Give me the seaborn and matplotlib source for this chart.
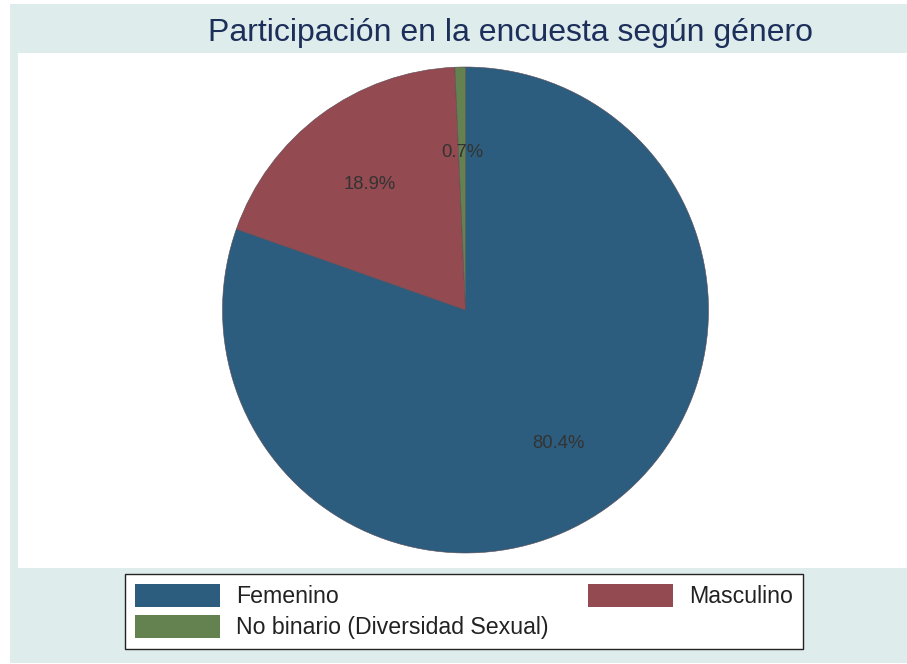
import matplotlib
matplotlib.use("Agg")
import matplotlib.pyplot as plt
from matplotlib.patches import Rectangle, Patch
import seaborn as sns

# Data
categories = ['Femenino', 'Masculino', 'No binario (Diversidad Sexual)']
shares = [80.4, 18.9, 0.7]
colors = sns.color_palette(['#2d5d7e', '#934a51', '#648150'])

sns.set_style('white')
plt.rcParams['font.family'] = ['Liberation Sans', 'DejaVu Sans']

W, H = 907, 664
fig = plt.figure(figsize=(W / 100, H / 100), dpi=100, facecolor='white')

def fx(px):
    return px / W

def fy(py):
    return 1 - py / H

# outer light background and white plot region
fig.add_artist(Rectangle((fx(10), fy(663)), fx(W - 10), (663 - 4) / H,
                         transform=fig.transFigure, facecolor='#dfecec',
                         edgecolor='none', zorder=0))
fig.add_artist(Rectangle((fx(18), fy(568)), fx(W - 18), (568 - 53) / H,
                         transform=fig.transFigure, facecolor='white',
                         edgecolor='none', zorder=0))

# pie axes (square box around the pie)
ax = fig.add_axes([fx(222), fy(553), fx(487), 486 / H])
ax.set_facecolor('none')
wedges, texts, autotexts = ax.pie(
    shares, colors=colors, startangle=90, counterclock=False,
    autopct='%1.1f%%', pctdistance=0.66,
    wedgeprops=dict(linewidth=0.4, edgecolor='#5a4a55'),
    textprops=dict(fontsize=13.3, color='#333333'))
for t in autotexts:
    x, y = t.get_position()
    t.set_position((x, y - 0.012))
ax.set_xlim(-1, 1)
ax.set_ylim(-1, 1)
ax.axis('off')

fig.text(fx(510), fy(33), 'Participación en la encuesta según género',
         ha='center', va='center', fontsize=23, color='#1c2f5a')

# legend: column-major order so rows read Femenino | Masculino, No binario
handles = [Patch(facecolor=c, edgecolor='none') for c in colors]
order = [0, 2, 1]
leg = fig.legend([handles[i] for i in order], [categories[i] for i in order],
                 ncol=2, loc='upper left',
                 bbox_to_anchor=(fx(125), fy(574)),
                 fontsize=16.7, frameon=True, fancybox=False, framealpha=1,
                 facecolor='white',
                 handlelength=3.66, handleheight=1.15, handletextpad=0.69,
                 columnspacing=1.72, labelspacing=0.3, borderpad=0.42,
                 borderaxespad=0)
leg.get_frame().set_edgecolor('#222222')
leg.get_frame().set_linewidth(1.0)
for t in leg.get_texts():
    t.set_color('#222222')

fig.savefig('out.png', dpi=100, facecolor='white')
